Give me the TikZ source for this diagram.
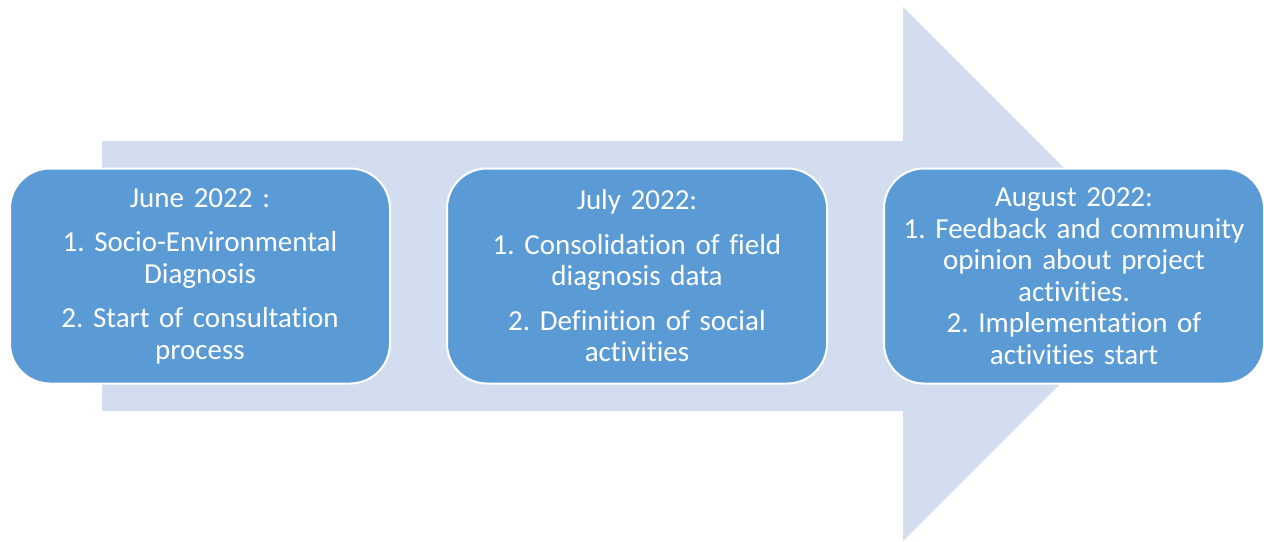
\documentclass[tikz,border=0pt]{standalone}
\usepackage{fontspec}
\setmainfont{Carlito}[Ligatures=NoCommon]
\usepackage{xcolor}
\usetikzlibrary{positioning}
\definecolor{boxblue}{HTML}{5B9BD5}
\definecolor{arrowblue}{HTML}{D2DEEF}
\frenchspacing

\begin{document}
\begin{tikzpicture}[x=1pt, y=-1pt, node distance = 55pt]
            \tikzstyle{phase} = [rectangle, rounded corners=40pt, draw=white, line width=2pt, fill=boxblue, text=white, align=center, minimum width=380pt, minimum height=215pt, text width=372pt, font=\fontsize{29}{31.5}\selectfont]
            \useasboundingbox (0,0) rectangle (1264,541);

            \fill [arrowblue] (102,141) -- (903,141) -- (903,7) -- (1170,274) -- (903,541) -- (903,411) -- (102,411) -- cycle;

            \node [phase] (P1) at (200,276) {June 2022 :\\[13pt] 1. Socio-Environmental\\ Diagnosis\\[13pt] 2. Start of consultation\\ process};
            \node [phase, right = of P1] (P2) {July 2022:\\[13pt] 1. Consolidation of field\\ diagnosis data\\[13pt] 2. Definition of social\\ activities};
            \node [phase, right = of P2] (P3) {August 2022:\\ 1. Feedback and community\\ opinion about project\\ activities.\\ 2. Implementation of\\ activities start};
        \end{tikzpicture}
\end{document}
